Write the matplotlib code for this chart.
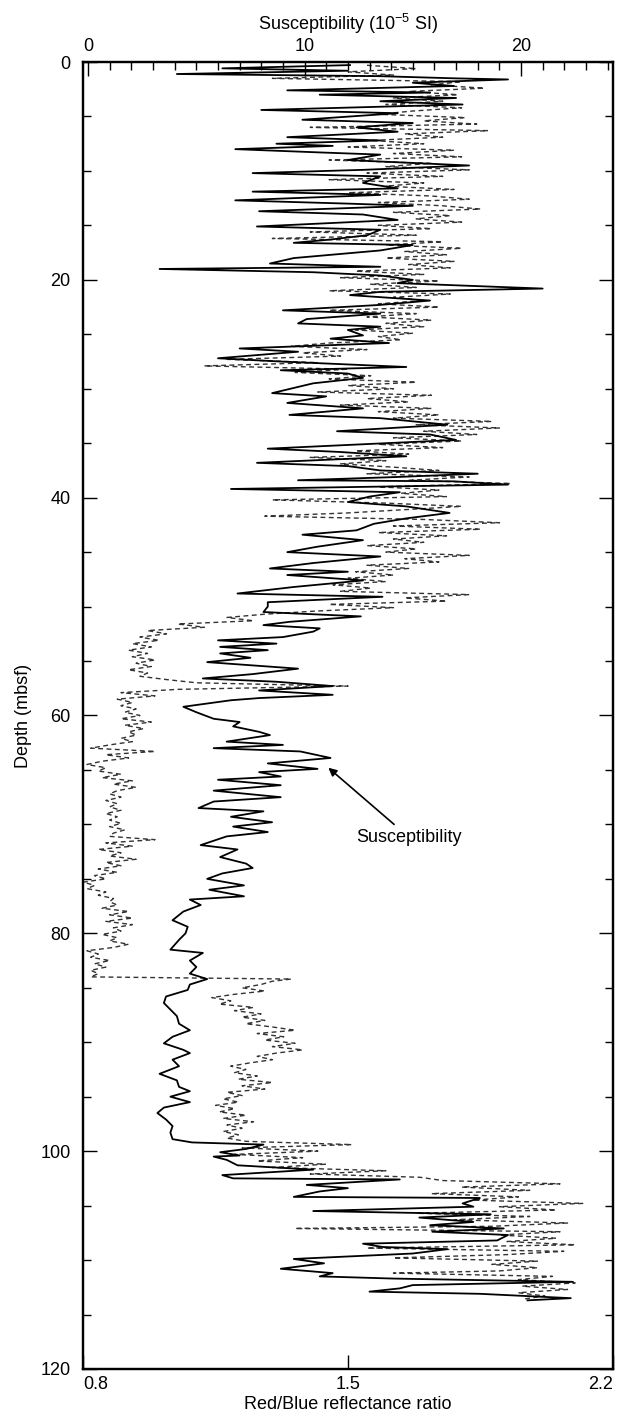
import matplotlib
matplotlib.use("Agg")
import matplotlib.pyplot as plt
from matplotlib.ticker import MultipleLocator

plt.rcParams['font.family'] = ['Liberation Sans', 'DejaVu Sans']

# Magnetic susceptibility (10^-5 SI) versus depth (mbsf)
sus_depth = [
    0.28, 0.58, 0.8, 1.1, 1.3, 1.5, 1.6, 1.9, 2.2, 2.6, 2.8, 3.0, 3.3, 3.6, 3.9,
    4.4, 4.7, 5.3, 5.6, 6.0, 6.4, 6.9, 7.2, 7.5, 7.7, 8.0, 8.3, 8.5, 9.0, 9.5,
    9.9, 10.2, 10.5, 11.1, 11.6, 11.9, 12.2, 12.7, 13.0, 13.2, 13.7, 14.0, 14.5,
    15.1, 15.4, 15.9, 16.3, 16.6, 16.8, 17.3, 18.0, 18.5, 18.8, 19.0, 19.3, 19.6,
    20.0, 20.3, 20.8, 21.1, 21.4, 21.9, 22.3, 22.8, 23.1, 23.6, 24.0, 24.3, 24.6,
    25.1, 25.4, 25.8, 26.3, 26.6, 27.2, 27.5, 28.0, 28.3, 28.6, 29.0, 29.5, 30.4,
    30.7, 31.3, 31.8, 32.4, 32.7, 33.3, 33.9, 34.2, 34.7, 35.5, 35.8, 36.2, 36.8,
    37.1, 37.5, 37.8, 38.1, 38.4, 38.5, 38.8, 39.2, 39.5, 39.9, 40.4, 40.8, 41.4,
    41.9, 42.4, 43.0, 43.4, 43.9, 44.5, 45.0, 45.4, 46.0, 46.5, 46.8, 47.1, 47.6,
    48.2, 48.8, 49.1, 49.6, 50.0, 50.5, 50.9, 51.4, 51.7, 52.0, 52.3, 52.8, 53.1,
    53.4, 53.7, 54.0, 54.3, 54.7, 55.1, 55.4, 55.7, 56.2, 56.6, 56.9, 57.3, 57.7,
    58.1, 58.4, 58.6, 59.2, 59.7, 60.3, 60.6, 61.0, 61.5, 61.8, 62.4, 62.7, 63.0,
    63.3, 63.9, 64.4, 64.9, 65.2, 65.6, 65.9, 66.4, 66.9, 67.5, 67.9, 68.5, 68.8,
    69.3, 69.8, 70.2, 70.7, 71.1, 71.9, 72.3, 73.0, 73.6, 74.0, 74.5, 75.0, 75.6,
    76.0, 76.6, 76.9, 77.4, 78.0, 78.8, 79.4, 80.0, 80.6, 81.5, 81.8, 82.5, 83.1,
    83.7, 84.2, 84.7, 85.2, 85.8, 86.4, 87.0, 87.6, 88.3, 88.9, 89.5, 90.1, 90.7,
    91.0, 91.6, 92.2, 92.9, 93.5, 94.1, 94.5, 95.0, 95.5, 96.0, 96.5, 97.1, 97.7,
    98.3, 98.9, 99.2, 99.4, 99.8, 100.1, 100.4, 100.5, 100.8, 101.3, 101.7, 102.2,
    102.5, 102.6, 103.1, 103.4, 103.7, 104.2, 104.3, 104.8, 105.1, 105.5, 105.8,
    106.1, 106.5, 106.8, 107.1, 107.4, 107.7, 108.2, 108.5, 108.8, 109.0, 109.4,
    109.9, 110.3, 110.8, 111.2, 111.5, 111.7, 112.0, 112.3, 112.6, 112.9, 113.1,
    113.5, 113.7,
]
sus_value = [
    12.1, 6.2, 12.0, 4.1, 13.5, 17.0, 19.4, 15.0, 16.9, 9.2, 15.8, 10.7, 17.0, 13.5, 17.3,
    8.0, 14.3, 9.9, 15.0, 12.4, 14.3, 9.2, 13.5, 8.7, 11.3, 6.8, 10.7, 13.5, 12.0, 17.6,
    12.7, 7.6, 13.5, 12.7, 14.3, 7.6, 13.5, 6.8, 12.0, 15.0, 7.9, 12.7, 14.3,
    7.8, 13.5, 12.9, 11.2, 9.5, 15.0, 13.5, 9.5, 8.4, 13.5, 3.3, 10.4, 13.5,
    15.0, 14.3, 21.0, 13.5, 12.1, 15.8, 13.5, 9.0, 13.5, 10.1, 9.7, 13.5, 12.0,
    12.7, 11.2, 13.9, 7.0, 9.7, 6.0, 8.9, 14.7, 8.9, 12.0, 12.7, 10.4, 8.5,
    11.0, 9.2, 12.7, 9.3, 13.5, 16.6, 11.5, 15.8, 17.0, 8.3, 11.6, 14.7, 7.8,
    12.0, 13.5, 18.0, 14.3, 9.7, 16.9, 19.4, 6.6, 14.4, 13.0, 12.0, 14.7, 16.7,
    14.7, 13.2, 12.4, 9.9, 12.7, 10.6, 9.2, 13.5, 10.4, 8.4, 12.0, 9.2, 12.7,
    9.5, 6.9, 13.6, 8.3, 8.3, 8.1, 12.6, 9.3, 8.1, 10.7, 10.4, 9.0, 6.0,
    8.7, 6.1, 8.3, 6.1, 7.5, 5.5, 7.6, 9.7, 7.6, 5.3, 8.7, 11.3, 7.9,
    11.3, 7.9, 6.6, 4.4, 5.0, 5.8, 7.0, 6.7, 7.9, 8.4, 6.4, 9.0, 5.8,
    9.8, 11.2, 8.3, 10.6, 7.9, 8.9, 6.0, 8.9, 5.8, 8.9, 5.8, 5.1, 8.1,
    6.6, 8.5, 6.7, 8.3, 6.4, 5.2, 6.9, 6.1, 7.3, 7.6, 6.2, 5.5, 7.2,
    5.6, 7.2, 4.7, 5.2, 4.4, 3.9, 4.6, 4.5, 4.2, 3.8, 5.3, 4.7, 5.0,
    4.7, 5.5, 4.7, 4.6, 3.6, 3.5, 3.8, 4.1, 4.2, 4.7, 3.9, 3.5, 4.4,
    4.7, 3.9, 4.2, 3.3, 4.1, 4.2, 4.7, 3.8, 4.7, 3.5, 3.2, 3.6, 3.9,
    3.8, 3.9, 4.8, 8.1, 7.3, 6.1, 7.0, 5.8, 6.4, 6.9, 10.4, 6.2,
    6.7, 14.4, 10.1, 12.0, 10.7, 9.5, 18.1, 17.3, 17.8, 10.4, 18.6,
    15.3, 17.8, 15.8, 19.2, 15.9, 19.4, 18.9, 12.7, 13.6, 16.6, 15.0,
    9.5, 10.9, 8.9, 11.3, 10.7, 14.1, 22.4, 15.0, 14.4, 13.0, 18.1,
    22.3, 20.3,
]

# Red/blue reflectance ratio versus depth (mbsf)
rb_depth = [
    0.3, 0.6, 0.9, 1.2, 1.5, 1.8, 2.1, 2.4, 2.7, 3.0, 3.3, 3.6, 3.9, 4.2, 4.5, 4.8,
    5.1, 5.4, 5.7, 6.0, 6.3, 6.6, 6.9, 7.2, 7.5, 7.8, 8.1, 8.4, 8.7, 9.0, 9.3, 9.6,
    9.9, 10.2, 10.5, 10.8, 11.1, 11.4, 11.7, 12.0, 12.3, 12.6, 12.9, 13.2, 13.5,
    13.8, 14.1, 14.4, 14.7, 15.0, 15.3, 15.6, 15.9, 16.2, 16.5, 16.8, 17.1, 17.4,
    17.7, 18.0, 18.3, 18.6, 18.9, 19.2, 19.5, 19.8, 20.1, 20.4, 20.7, 21.0, 21.3,
    21.6, 21.9, 22.2, 22.5, 22.8, 23.1, 23.4, 23.7, 24.0, 24.3, 24.6, 24.9, 25.2,
    25.5, 25.8, 26.1, 26.4, 26.7, 27.0, 27.3, 27.6, 27.9, 28.2, 28.5, 28.8, 29.1,
    29.4, 29.7, 30.0, 30.3, 30.6, 30.9, 31.2, 31.5, 31.8, 32.1, 32.4, 32.7, 33.0,
    33.3, 33.6, 33.9, 34.2, 34.5, 34.8, 35.1, 35.4, 35.7, 36.0, 36.3, 36.6, 36.9,
    37.2, 37.5, 37.8, 38.1, 38.4, 38.7, 39.0, 39.3, 39.6, 39.9, 40.2, 40.5, 40.8,
    41.1, 41.4, 41.7, 42.0, 42.3, 42.6, 42.9, 43.2, 43.5, 43.8, 44.1, 44.4, 44.7,
    45.0, 45.3, 45.6, 45.9, 46.2, 46.5, 46.8, 47.1, 47.4, 47.7, 48.0, 48.3, 48.6,
    48.9, 49.2, 49.5, 49.8, 50.1, 50.4, 50.7, 51.0, 51.3, 51.6, 51.9, 52.2, 52.5,
    52.8, 53.1, 53.4, 53.7, 54.0, 54.3, 54.6, 54.9, 55.2, 55.5, 55.8, 56.1, 56.4,
    56.7, 57.0, 57.3, 57.6, 57.9, 58.2, 58.5, 58.8, 59.1, 59.4, 59.7, 60.0, 60.3,
    60.6, 60.9, 61.2, 61.5, 61.8, 62.1, 62.4, 62.7, 63.0, 63.3, 63.6, 63.9, 64.2,
    64.5, 64.8, 65.1, 65.4, 65.7, 66.0, 66.3, 66.6, 66.9, 67.2, 67.5, 67.8, 68.1,
    68.4, 68.7, 69.0, 69.3, 69.6, 69.9, 70.2, 70.5, 70.8, 71.1, 71.4, 71.7, 72.0,
    72.3, 72.6, 72.9, 73.2, 73.5, 73.8, 74.1, 74.4, 74.7, 75.0, 75.3, 75.6, 75.9,
    76.2, 76.5, 76.8, 77.1, 77.4, 77.7, 78.0, 78.3, 78.6, 78.9, 79.2, 79.5, 79.8,
    80.1, 80.4, 80.7, 81.0, 81.3, 81.6, 81.9, 82.2, 82.5, 82.8, 83.1, 83.4, 83.7,
    84.0, 84.2, 84.4, 84.7, 85.0, 85.3, 85.6, 85.9, 86.2, 86.5, 86.8, 87.1, 87.4,
    87.7, 88.0, 88.3, 88.6, 88.9, 89.2, 89.5, 89.8, 90.1, 90.4, 90.7, 91.0, 91.3,
    91.6, 91.9, 92.2, 92.5, 92.8, 93.1, 93.4, 93.7, 94.0, 94.3, 94.6, 94.9, 95.2,
    95.5, 95.8, 96.1, 96.4, 96.7, 97.0, 97.3, 97.6, 97.9, 98.2, 98.5, 98.8, 99.1,
    99.4, 99.7, 100.0, 100.3, 100.6, 100.9, 101.2, 101.5, 101.8, 102.1, 102.4,
    102.7, 103.0, 103.3, 103.6, 103.9, 104.2, 104.5, 104.8, 105.1, 105.4, 105.7,
    106.0, 106.3, 106.6, 106.9, 107.1, 107.4, 107.7, 108.0, 108.3, 108.6, 108.9,
    109.2, 109.5, 109.8, 110.1, 110.4, 110.7, 111.0, 111.2, 111.5, 111.8, 112.1,
    112.4, 112.7, 113.0, 113.3, 113.6,
]
rb_value = [
    1.55, 1.68, 1.50, 1.62, 1.30, 1.80, 1.72, 1.86, 1.66, 1.79, 1.62, 1.75, 1.60, 1.80, 1.67, 1.58,
    1.81, 1.70, 1.84, 1.40, 1.87, 1.65, 1.75, 1.56, 1.70, 1.50, 1.78, 1.62, 1.80, 1.45, 1.72, 1.60,
    1.82, 1.55, 1.75, 1.45, 1.70, 1.60, 1.78, 1.50, 1.72, 1.82, 1.58, 1.75, 1.85,
    1.62, 1.77, 1.68, 1.80, 1.58, 1.72, 1.40, 1.68, 1.30, 1.75, 1.60, 1.80, 1.65,
    1.76, 1.60, 1.78, 1.66, 1.77, 1.52, 1.70, 1.48, 1.74, 1.56, 1.68, 1.45, 1.77,
    1.62, 1.70, 1.58, 1.74, 1.45, 1.68, 1.55, 1.72, 1.60, 1.70, 1.52, 1.67, 1.58,
    1.64, 1.45, 1.35, 1.55, 1.38, 1.48, 1.18, 1.42, 1.12, 1.50, 1.36, 1.56, 1.45,
    1.68, 1.50, 1.62, 1.42, 1.72, 1.55, 1.66, 1.48, 1.72, 1.58, 1.74, 1.62, 1.88,
    1.68, 1.90, 1.70, 1.84, 1.62, 1.80, 1.58, 1.75, 1.52, 1.66, 1.40, 1.60, 1.48,
    1.62, 1.74, 1.55, 1.82, 1.66, 1.93, 1.58, 1.74, 1.64, 1.76, 1.30, 1.60, 1.80,
    1.65, 1.50, 1.28, 1.70, 1.90, 1.62, 1.85, 1.58, 1.76, 1.62, 1.70, 1.55, 1.68,
    1.60, 1.82, 1.65, 1.74, 1.55, 1.66, 1.52, 1.62, 1.50, 1.60, 1.46, 1.56, 1.48,
    1.82, 1.65, 1.76, 1.45, 1.62, 1.42, 1.28, 1.18, 1.25, 1.05, 1.12, 0.97, 1.02,
    0.95, 1.00, 0.93, 0.98, 0.92, 0.97, 0.93, 0.99, 0.94, 0.98, 0.92, 0.97, 0.95,
    1.02, 1.10, 1.50, 1.05, 0.90, 0.99, 0.89, 0.93, 0.90, 0.94, 0.91, 0.95, 0.90,
    0.98, 0.91, 0.96, 0.92, 0.94, 0.90, 0.93, 0.87, 0.82, 0.99, 0.86, 0.92, 0.85,
    0.81, 0.86, 0.84, 0.90, 0.85, 0.93, 0.88, 0.94, 0.89, 0.87, 0.90, 0.86, 0.89,
    0.87, 0.90, 0.86, 0.89, 0.87, 0.90, 0.87, 0.91, 0.88, 0.87, 0.99, 0.86, 0.93,
    0.84, 0.90, 0.87, 0.94, 0.86, 0.90, 0.84, 0.89, 0.83, 0.86, 0.80, 0.83, 0.81,
    0.86, 0.84, 0.88, 0.87, 0.89, 0.85, 0.92, 0.87, 0.93, 0.86, 0.93, 0.88, 0.90,
    0.85, 0.89, 0.87, 0.92, 0.88, 0.81, 0.84, 0.82, 0.87, 0.83, 0.86, 0.82, 0.84,
    0.82, 1.35, 1.30, 1.27, 1.22, 1.28, 1.20, 1.14, 1.19, 1.16, 1.25, 1.20, 1.27,
    1.22, 1.28, 1.23, 1.30, 1.36, 1.26, 1.33, 1.28, 1.36, 1.30, 1.38, 1.31, 1.26,
    1.30, 1.24, 1.19, 1.23, 1.20, 1.26, 1.21, 1.30, 1.22, 1.28, 1.18, 1.22, 1.17,
    1.21, 1.15, 1.20, 1.16, 1.23, 1.17, 1.25, 1.18, 1.22, 1.17, 1.21, 1.18, 1.23,
    1.51, 1.22, 1.42, 1.20, 1.38, 1.26, 1.44, 1.30, 1.60, 1.40, 1.69,
    1.75, 2.06, 1.80, 1.98, 1.72, 1.95, 1.83, 2.12, 1.90, 2.05, 1.68,
    1.98, 1.78, 2.08, 1.88, 1.36, 2.06, 1.90, 2.05, 1.92, 2.10, 1.55,
    2.07, 1.92, 1.62, 2.00, 1.88, 2.00, 1.90, 1.62, 2.04, 1.95, 2.10,
    1.96, 2.08, 1.95, 2.02, 1.96,
]

depth_ticks = [0, 20, 40, 60, 80, 100, 120]
rb_ticks = [0.8, 1.5, 2.2]
rb_labels = ['0.8', '1.5', '2.2']
sus_ticks = [0, 10, 20]

fig = plt.figure(figsize=(6.3, 14.26), dpi=100)
ax = fig.add_axes([0.132, 0.040, 0.841, 0.9165])

# Reflectance ratio: thin dashed trace on the bottom axis
ax.plot(rb_value, rb_depth, color='0.2', lw=1.0, ls=(0, (3.5, 2.5)))
ax.set_xlim(0.8, 2.2)
ax.set_ylim(120, 0)
ax.set_xticks(rb_ticks)
ax.set_xticklabels(rb_labels)
ax.set_yticks(depth_ticks)
ax.yaxis.set_minor_locator(MultipleLocator(5))
ax.set_xlabel('Red/Blue reflectance ratio', fontsize=13, labelpad=2)
ax.set_ylabel('Depth (mbsf)', fontsize=13, labelpad=6)
ax.tick_params(axis='both', which='both', direction='in', labelsize=13,
               right=True, width=1.0)
ax.tick_params(axis='both', which='major', length=10)
ax.tick_params(axis='y', which='minor', length=6)
ax.tick_params(axis='x', which='major', pad=5)
ax.tick_params(axis='y', which='major', pad=9)
xt = ax.get_xticklabels()
xt[0].set_ha('left')
xt[-1].set_ha('right')

# Susceptibility: solid trace on the top axis
top = ax.twiny()
top.plot(sus_value, sus_depth, color='black', lw=1.3)
top.set_xlim(-0.23, 24.25)
top.set_xticks(sus_ticks)
top.xaxis.set_minor_locator(MultipleLocator(1))
top.tick_params(axis='x', which='both', direction='in', labelsize=13, width=1.0)
top.tick_params(axis='x', which='major', length=10, pad=5)
top.tick_params(axis='x', which='minor', length=6)
top.set_xlabel('Susceptibility (10$^{\\mathregular{-5}}$ SI)', fontsize=13, labelpad=6)

top.annotate('Susceptibility', xy=(11.1, 64.8), xytext=(12.4, 71.2),
             fontsize=13, va='center', ha='left',
             arrowprops=dict(arrowstyle='-|>', color='black', lw=1.2,
                             mutation_scale=12, shrinkA=2, shrinkB=0))

for a in (ax, top):
    for s in a.spines.values():
        s.set_linewidth(1.6)

fig.savefig('out.png', dpi=100)
